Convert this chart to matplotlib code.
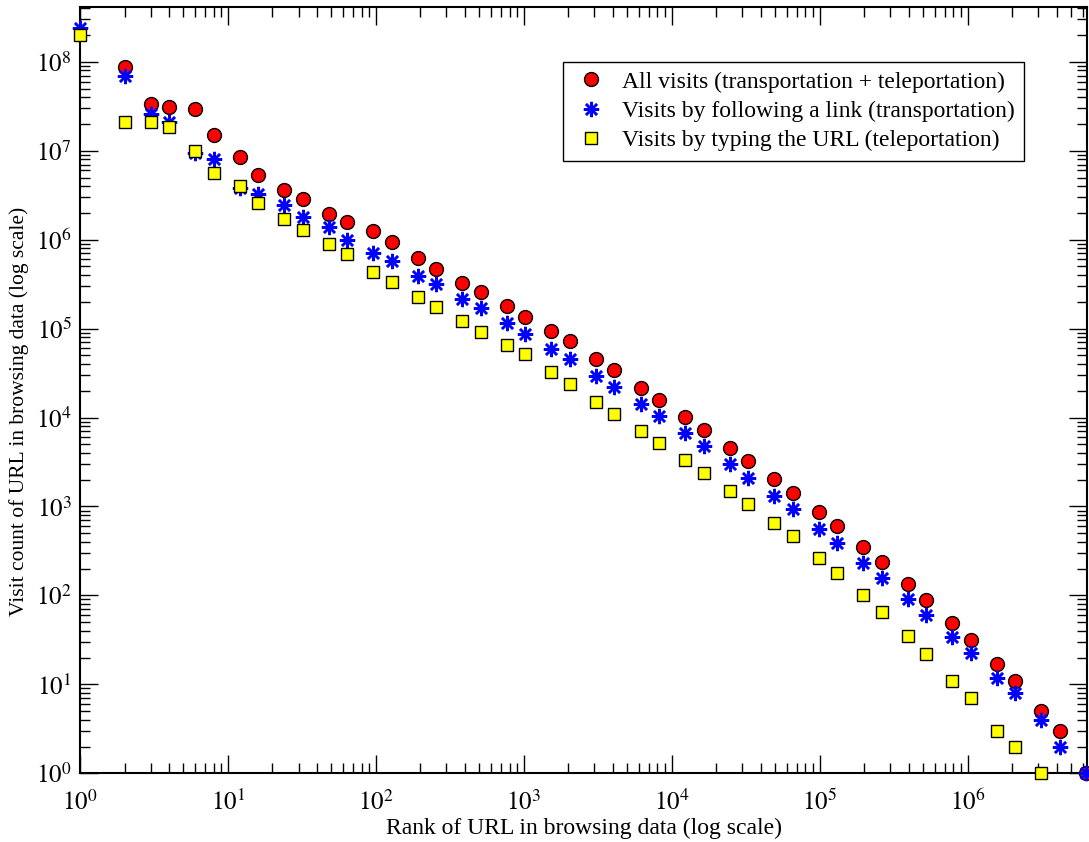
import math
import matplotlib
matplotlib.use("Agg")
import matplotlib.pyplot as plt
from matplotlib.ticker import LogLocator, FuncFormatter, NullFormatter
from matplotlib.transforms import Bbox, TransformedBbox

plt.rcParams['font.family'] = ['Liberation Serif', 'DejaVu Serif']
plt.rcParams['mathtext.fontset'] = 'stix'

# Ranks (x) for the all-visits and link-visits series
ranks = [1, 2, 3, 4, 6, 8, 12, 16, 24, 32, 48, 64, 96, 128, 192, 256, 384, 512,
         768, 1024, 1536, 2048, 3072, 4096, 6144, 8192, 12288, 16384, 24576,
         32768, 49152, 65536, 98304, 131072, 196608, 262144, 393216, 524288,
         786432, 1048576, 1572864, 2097152, 3145728, 4194304, 6291456]

all_visits = [6.0e8, 8.8e7, 3.37e7, 3.07e7, 2.94e7, 1.51e7, 8.5e6, 5.4e6, 3.58e6,
              2.88e6, 1.92e6, 1.59e6, 1.24e6, 9.33e5, 6.21e5, 4.63e5, 3.25e5,
              2.58e5, 1.78e5, 1.36e5, 9.3e4, 7.24e4, 4.58e4, 3.4e4, 2.16e4,
              1.59e4, 1.01e4, 7.23e3, 4.58e3, 3.27e3, 2.02e3, 1.43e3, 859, 598,
              347, 237, 133, 88.8, 49, 31.8, 17, 10.9, 5.05, 3.0, 1.0]

link_visits = [2.37e8, 6.9e7, 2.6e7, 2.1e7, 9.4e6, 8.0e6, 3.8e6, 3.26e6, 2.45e6,
               1.81e6, 1.40e6, 1.0e6, 7.0e5, 5.74e5, 3.93e5, 3.14e5, 2.13e5,
               1.69e5, 1.15e5, 8.7e4, 5.9e4, 4.5e4, 2.93e4, 2.22e4, 1.43e4,
               1.05e4, 6.64e3, 4.75e3, 2.98e3, 2.1e3, 1.3e3, 929, 558, 385, 230,
               156, 90.4, 60.2, 33.8, 22.7, 11.9, 7.9, 4.0, 2.0, 1.0]

# Typed-URL series is shorter (ends at rank 3145728)
typed_ranks = ranks[:43]
typed_visits = [1.98e8, 2.08e7, 2.08e7, 1.85e7, 1.0e7, 5.6e6, 3.97e6, 2.56e6,
                1.72e6, 1.28e6, 8.85e5, 6.84e5, 4.29e5, 3.34e5, 2.24e5, 1.76e5,
                1.22e5, 9.2e4, 6.53e4, 5.13e4, 3.22e4, 2.36e4, 1.51e4, 1.1e4,
                7.0e3, 5.13e3, 3.3e3, 2.38e3, 1.49e3, 1.06e3, 646, 465, 261, 179,
                100, 65.6, 35, 21.9, 10.9, 7.0, 3.0, 2.0, 1.0]

labels = ["All visits (transportation + teleportation)",
          "Visits by following a link (transportation)",
          "Visits by typing the URL (teleportation)"]

fig = plt.figure(figsize=(10.89, 8.42), dpi=100)
ax = fig.add_axes([80 / 1089, (842 - 773.3) / 842, (1087 - 80) / 1089, (773.3 - 7.3) / 842])

l1, = ax.plot(ranks, all_visits, linestyle='none', marker='o', markersize=10,
              markerfacecolor='#ff0000', markeredgecolor='black', markeredgewidth=1.0,
              label=labels[0], zorder=3)
l2, = ax.plot(ranks, link_visits, linestyle='none', marker=(8, 2, 0), markersize=11,
              color='#0000ff', markeredgewidth=1.8, label=labels[1], zorder=4)
l3, = ax.plot(typed_ranks, typed_visits, linestyle='none', marker='s', markersize=8,
              markerfacecolor='#ffff00', markeredgecolor='black', markeredgewidth=1.0,
              label=labels[2], zorder=5)

ax.set_xscale('log')
ax.set_yscale('log')
ax.set_xlim(1, 6.4e6)
ax.set_ylim(1, 4.1e8)

# clip markers only at the top edge (let edge markers spill over other sides)
clip = TransformedBbox(Bbox([[-0.1, -0.1], [1.1, 1.0]]), ax.transAxes)
for ln in (l1, l2, l3):
    ln.set_clip_on(True)
    ln.set_clip_box(clip)

ax.xaxis.set_major_locator(LogLocator(base=10, numticks=20))
ax.yaxis.set_major_locator(LogLocator(base=10, numticks=20))
ax.xaxis.set_minor_locator(LogLocator(base=10, subs=range(2, 10), numticks=100))
ax.yaxis.set_minor_locator(LogLocator(base=10, subs=range(2, 10), numticks=100))
fmt = FuncFormatter(lambda v, p: r"$10^{%d}$" % round(math.log10(v)))
ax.xaxis.set_major_formatter(fmt)
ax.yaxis.set_major_formatter(fmt)
ax.xaxis.set_minor_formatter(NullFormatter())
ax.yaxis.set_minor_formatter(NullFormatter())

ax.tick_params(which='both', direction='in', top=True, right=True, width=1.0,
               labelsize=18, colors='black')
ax.tick_params(which='major', length=13)
ax.tick_params(axis='x', which='major', pad=12)
ax.tick_params(axis='y', which='major', pad=6)
ax.tick_params(which='minor', length=7)
for s in ax.spines.values():
    s.set_linewidth(1.5)

ax.set_xlabel("Rank of URL in browsing data (log scale)", fontsize=17, labelpad=2)
ax.set_ylabel("Visit count of URL in browsing data (log scale)", fontsize=15.5)
ax.yaxis.set_label_coords(-0.051, 0.473)

leg = ax.legend(loc='upper right', bbox_to_anchor=(0.9375, 0.929), fontsize=17,
                frameon=True, fancybox=False, edgecolor='black', framealpha=1,
                borderpad=0.4, handletextpad=0.5, labelspacing=0.33,
                borderaxespad=0, handlelength=1.6)
leg.get_frame().set_linewidth(1.0)

fig.savefig("out.png", dpi=100)
